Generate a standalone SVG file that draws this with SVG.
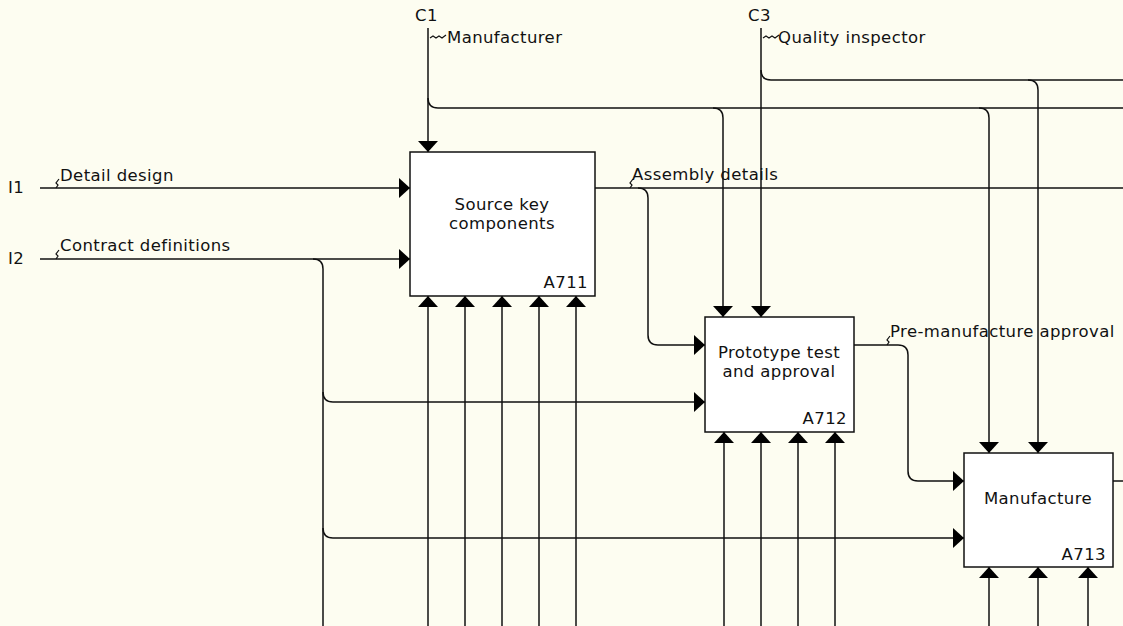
<svg xmlns="http://www.w3.org/2000/svg" width="1123" height="626" viewBox="0 0 1123 626">
<defs>
<marker id="ah" markerUnits="userSpaceOnUse" viewBox="0 0 11 20" refX="11" refY="10" markerWidth="11" markerHeight="20" orient="auto"><path d="M0,0 L11,10 L0,20 z" fill="#000"/></marker>
</defs>
<style>
.ln{fill:none;stroke:#111;stroke-width:1.5}
.sq{fill:none;stroke:#111;stroke-width:1.2}
.box{fill:#ffffff;stroke:#111;stroke-width:1.5}
text{font-family:"DejaVu Sans",Verdana,sans-serif;font-size:16.5px;letter-spacing:0.4px;fill:#111}
.c{text-anchor:middle}
.r{text-anchor:end}
</style>
<rect width="1123" height="626" fill="#fdfdf1"/>
<g id="connectors">
<path class="ln" d="M428,28 V152" marker-end="url(#ah)"/>
<path class="ln" d="M428,98 Q428,108 438,108 H1123"/>
<path class="ln" d="M713,108 Q723,108 723,118 V317" marker-end="url(#ah)"/>
<path class="ln" d="M979,108 Q989,108 989,118 V453" marker-end="url(#ah)"/>
<path class="ln" d="M761,28 V317" marker-end="url(#ah)"/>
<path class="ln" d="M761,70 Q761,80 771,80 H1123"/>
<path class="ln" d="M1028,80 Q1038,80 1038,90 V453" marker-end="url(#ah)"/>
<path class="ln" d="M40,188 H410" marker-end="url(#ah)"/>
<path class="ln" d="M40,259 H410" marker-end="url(#ah)"/>
<path class="ln" d="M313,259 Q323,259 323,269 V626"/>
<path class="ln" d="M323,392 Q323,402 333,402 H705" marker-end="url(#ah)"/>
<path class="ln" d="M323,528 Q323,538 333,538 H964" marker-end="url(#ah)"/>
<path class="ln" d="M595,188 H1123"/>
<path class="ln" d="M638,188 Q648,188 648,198 V335 Q648,345 658,345 H705" marker-end="url(#ah)"/>
<path class="ln" d="M854,345 H898 Q908,345 908,355 V471 Q908,481 918,481 H964" marker-end="url(#ah)"/>
<path class="ln" d="M1113,481 H1123"/>
<path class="ln" d="M428,626 V296" marker-end="url(#ah)"/>
<path class="ln" d="M465,626 V296" marker-end="url(#ah)"/>
<path class="ln" d="M502,626 V296" marker-end="url(#ah)"/>
<path class="ln" d="M539,626 V296" marker-end="url(#ah)"/>
<path class="ln" d="M576,626 V296" marker-end="url(#ah)"/>
<path class="ln" d="M724,626 V432" marker-end="url(#ah)"/>
<path class="ln" d="M761,626 V432" marker-end="url(#ah)"/>
<path class="ln" d="M798,626 V432" marker-end="url(#ah)"/>
<path class="ln" d="M835,626 V432" marker-end="url(#ah)"/>
<path class="ln" d="M989,626 V567" marker-end="url(#ah)"/>
<path class="ln" d="M1038,626 V567" marker-end="url(#ah)"/>
<path class="ln" d="M1088,626 V567" marker-end="url(#ah)"/>
<path class="sq" d="M56,188 l2,-3 l-2,-2 l3,-4"/>
<path class="sq" d="M56,259 l2,-3 l-2,-2 l3,-4"/>
<path class="sq" d="M430,38 l3,-2 l3,2 l3,-2 l3,2 l4,-3"/>
<path class="sq" d="M763,38 l3,-2 l3,2 l3,-2 l3,2 l4,-3"/>
<path class="sq" d="M630,188 l2,-3 l-2,-2 l3,-4"/>
<path class="sq" d="M887,345 l2,-3 l-2,-2 l3,-4"/>
</g>
<g id="labels">
<text x="8" y="193">I1</text>
<text x="8" y="264">I2</text>
<text x="415" y="21">C1</text>
<text x="748" y="21">C3</text>
<text x="447" y="43">Manufacturer</text>
<text x="778" y="43">Quality inspector</text>
<text x="60" y="181">Detail design</text>
<text x="60" y="251">Contract definitions</text>
<text x="632" y="180">Assembly details</text>
<text x="890" y="337">Pre-manufacture approval</text>
</g>
<g id="A711">
<rect class="box" x="410" y="152" width="185" height="144"/>
<text class="c" x="502" y="210">Source key</text>
<text class="c" x="502" y="229">components</text>
<text class="r" x="588" y="288">A711</text>
</g>
<g id="A712">
<rect class="box" x="705" y="317" width="149" height="115"/>
<text class="c" x="779" y="358">Prototype test</text>
<text class="c" x="779" y="377">and approval</text>
<text class="r" x="847" y="424">A712</text>
</g>
<g id="A713">
<rect class="box" x="964" y="453" width="149" height="114"/>
<text class="c" x="1038" y="504">Manufacture</text>
<text class="r" x="1106" y="560">A713</text>
</g>
</svg>
